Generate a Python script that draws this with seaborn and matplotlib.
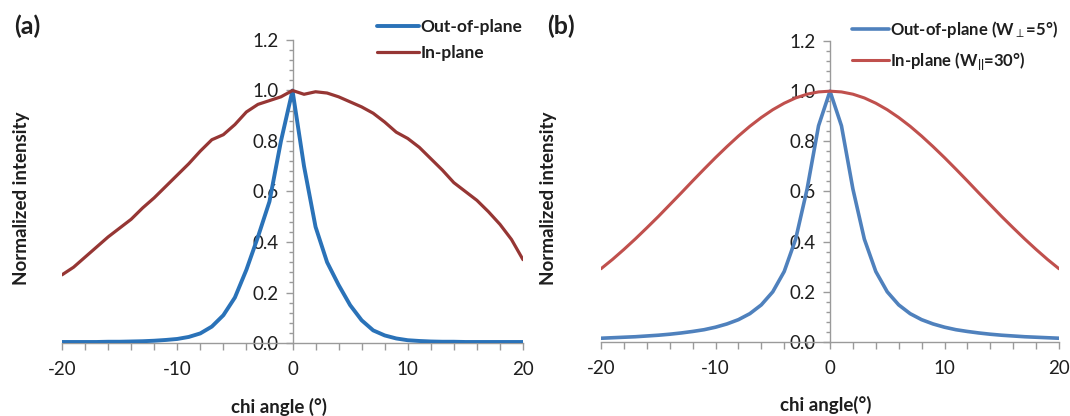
import numpy as np
import pandas as pd
import matplotlib
matplotlib.use("Agg")
import matplotlib.pyplot as plt
from matplotlib.ticker import MultipleLocator, FormatStrFormatter
import seaborn as sns

# ---------------- data ----------------
chi = list(range(-20, 21))

a_out = [0.004, 0.004, 0.004, 0.004, 0.005, 0.005, 0.006,
         0.007, 0.009, 0.012, 0.016, 0.024, 0.038, 0.065, 0.11, 0.18, 0.29, 0.42, 0.56, 0.80,
         1.0,
         0.70, 0.46, 0.32, 0.23, 0.15, 0.09, 0.05, 0.03, 0.018, 0.011, 0.008, 0.006,
         0.005, 0.005, 0.004, 0.004, 0.004, 0.004, 0.004, 0.004]
a_in = [0.27, 0.30, 0.34, 0.38, 0.42, 0.455, 0.49, 0.535, 0.575, 0.62, 0.665, 0.71, 0.76,
        0.805, 0.825, 0.865, 0.915, 0.945, 0.96, 0.975,
        1.0,
        0.985, 0.995, 0.99, 0.975, 0.955, 0.935, 0.91, 0.875, 0.835, 0.81, 0.775, 0.73,
        0.685, 0.635, 0.60, 0.565, 0.52, 0.47, 0.41, 0.33]

b_out = [0.015, 0.017, 0.019, 0.021, 0.024, 0.027, 0.031, 0.036, 0.042, 0.049, 0.059,
         0.072, 0.089, 0.113, 0.148, 0.200, 0.281, 0.410, 0.610, 0.862,
         1.0,
         0.862, 0.610, 0.410, 0.281, 0.200, 0.148, 0.113, 0.089, 0.072, 0.059,
         0.049, 0.042, 0.036, 0.031, 0.027, 0.024, 0.021, 0.019, 0.017, 0.015]
b_in = [0.292, 0.329, 0.369, 0.411, 0.455, 0.500, 0.547, 0.594, 0.642, 0.689, 0.735,
        0.779, 0.821, 0.860, 0.895, 0.926, 0.952, 0.973, 0.988, 0.997,
        1.0,
        0.997, 0.988, 0.973, 0.952, 0.926, 0.895, 0.860, 0.821, 0.779, 0.735,
        0.689, 0.642, 0.594, 0.547, 0.500, 0.455, 0.411, 0.369, 0.329, 0.292]

labels_a = ["Out-of-plane", "In-plane"]
labels_b = [r"Out-of-plane (W$_{\perp}$=5°)", r"In-plane (W$_{||}$=30°)"]
xlabels = ["chi angle (°)", "chi angle(°)"]
ylabel = "Normalized intensity"
panel_tags = ["(a)", "(b)"]

# ---------------- style ----------------
sns.set_theme(style="white")
plt.rcParams["font.family"] = ["Lato", "DejaVu Sans"]
plt.rcParams["mathtext.fontset"] = "custom"
plt.rcParams["mathtext.rm"] = "Lato:bold"
plt.rcParams["mathtext.it"] = "Lato:bold"
plt.rcParams["mathtext.bf"] = "Lato:bold"
plt.rcParams["mathtext.sf"] = "Lato:bold"
plt.rcParams["mathtext.fallback"] = "stixsans"

fig = plt.figure(figsize=(10.7, 4.16), dpi=100)
W, H = 1070, 416

def axes_px(x0, x1, ytop, ybot):
    return fig.add_axes([x0 / W, 1 - ybot / H, (x1 - x0) / W, (ybot - ytop) / H])

ax_a = axes_px(62, 523, 40, 343)
ax_b = axes_px(601, 1059, 41, 342)

panels = [
    (ax_a, a_out, a_in, labels_a, "#2a72b8", "#963634", 2.8, 2.3, xlabels[0], 0.47, -0.07,
     377, 19, 12.5, 2.4),
    (ax_b, b_out, b_in, labels_b, "#4f81bd", "#c0504d", 2.6, 2.2, xlabels[1], 0.49, -0.095,
     852, 19, 12.0, 2.2),
]

axis_col = "#9a9a9a"
txt_col = "#1e1e1e"
for i, (ax, yo, yi, labs, c_out, c_in, lw_o, lw_i, xl, xlx, ylx, legx, legy, legfs, hl) in enumerate(panels):
    sns.lineplot(x=chi, y=yo, ax=ax, color=c_out, lw=lw_o, label=labs[0], zorder=3)
    sns.lineplot(x=chi, y=yi, ax=ax, color=c_in, lw=lw_i, label=labs[1], zorder=3)
    ax.set_xlim(-20, 20)
    ax.set_ylim(0, 1.2)
    for s in ["top", "right"]:
        ax.spines[s].set_visible(False)
    ax.spines["left"].set_position(("data", 0))
    for s in ["left", "bottom"]:
        ax.spines[s].set_color(axis_col)
        ax.spines[s].set_linewidth(1.0)
        ax.spines[s].set_zorder(1)
    ax.xaxis.set_major_locator(MultipleLocator(10))
    ax.xaxis.set_minor_locator(MultipleLocator(2))
    ax.yaxis.set_major_locator(MultipleLocator(0.2))
    ax.yaxis.set_minor_locator(MultipleLocator(0.04))
    ax.yaxis.set_major_formatter(FormatStrFormatter("%.1f"))
    ax.xaxis.set_major_formatter(FormatStrFormatter("%d"))
    ax.tick_params(axis="both", which="both", direction="out", color=axis_col,
                   width=1.0, labelsize=13.5, labelcolor=txt_col)
    ax.tick_params(axis="x", which="both", length=5, pad=8, bottom=True)
    ax.tick_params(axis="y", which="major", length=5, pad=5, left=True)
    ax.tick_params(axis="y", which="minor", length=3, left=True)
    ax.set_xlabel(xl, fontsize=13.5, fontweight="bold", color=txt_col)
    ax.set_ylabel(ylabel, fontsize=13.5, fontweight="bold", color=txt_col)
    ax.xaxis.set_label_coords(xlx, -0.18)
    ax.yaxis.set_label_coords(ylx, 0.477)
    ax.grid(False)
    ax.legend(loc="upper left", bbox_to_anchor=(legx / W, 1 - legy / H),
              bbox_transform=fig.transFigure, frameon=False, handlelength=hl,
              handletextpad=0.1, labelspacing=0.6, borderaxespad=0, borderpad=0,
              prop={"size": legfs, "weight": "bold"})
    for t in ax.get_legend().get_texts():
        t.set_color(txt_col)

fig.text(14 / W, 1 - 26 / H, panel_tags[0], fontsize=18, fontweight="bold",
         va="center", ha="left", color=txt_col)
fig.text(547 / W, 1 - 26 / H, panel_tags[1], fontsize=18, fontweight="bold",
         va="center", ha="left", color=txt_col)

fig.savefig("out.png", dpi=100, facecolor="white")
